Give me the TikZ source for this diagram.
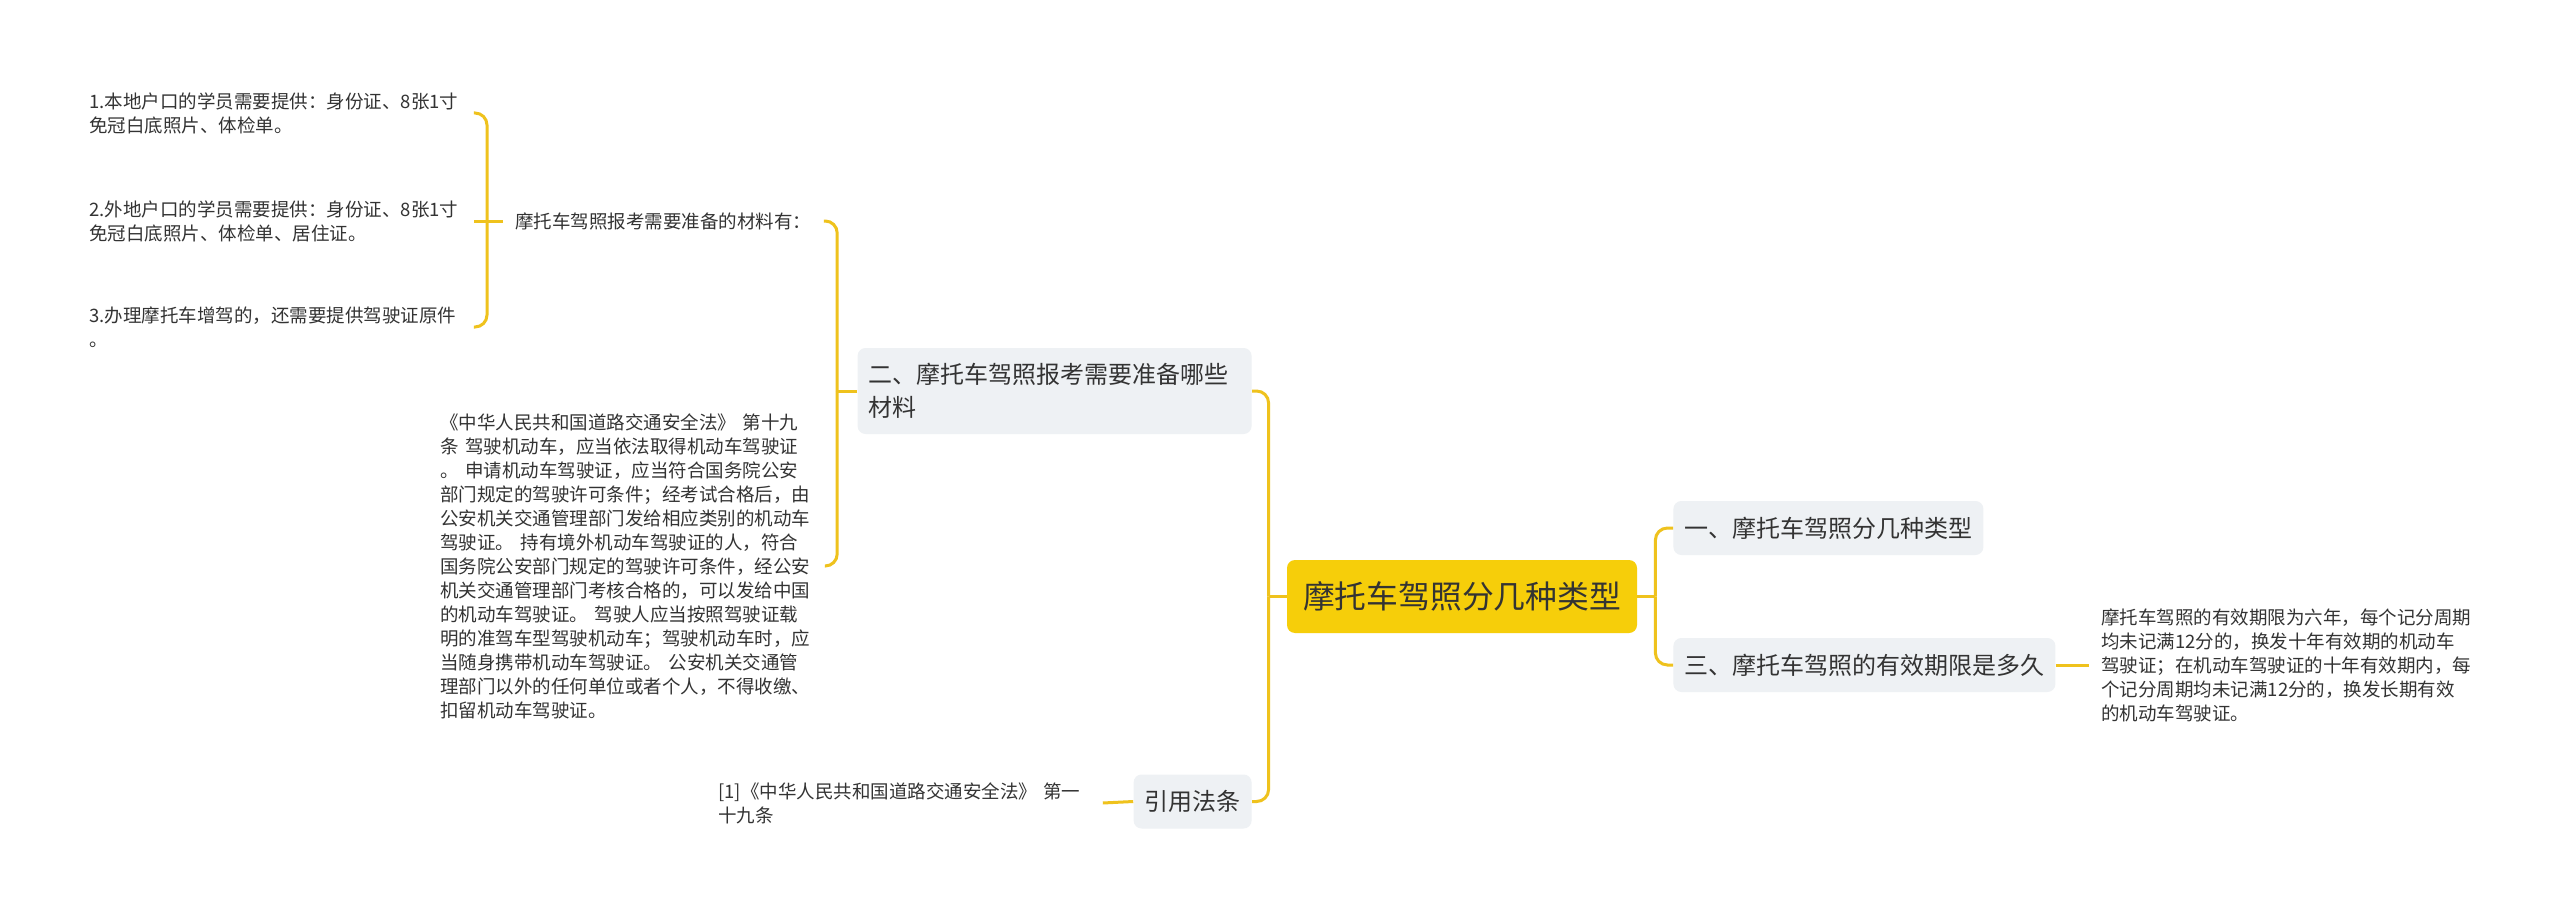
\documentclass[tikz,border=0pt]{standalone}
\usepackage{fontspec}
\setmainfont{Noto Sans CJK SC}
\usetikzlibrary{positioning}
\definecolor{linkyellow}{HTML}{EFC21D}
\definecolor{rootyellow}{HTML}{F6CE0A}
\definecolor{topicgray}{HTML}{EEF1F4}
\definecolor{inkgray}{HTML}{333333}
\tikzset{
  link/.style={draw=linkyellow,line width=1.5pt,rounded corners=6pt},
  rootbox/.style={rectangle,rounded corners=4pt,fill=rootyellow,text=inkgray,
    minimum width=175pt,minimum height=36.5pt,
    font=\fontsize{15.9pt}{19pt}\selectfont},
  topicbox/.style={rectangle,rounded corners=4pt,fill=topicgray,text=inkgray,
    inner xsep=5.5pt,minimum height=27pt,
    font=\fontsize{12pt}{16.5pt}\selectfont},
  leaftext/.style={anchor=west,inner xsep=6pt,inner ysep=1pt,text=inkgray,
    font=\fontsize{9.25pt}{12pt}\selectfont},
  leafpara/.style={leaftext,text width=186pt,align=left},
}

\begin{document}
\begin{tikzpicture}[x=0.5pt,y=-0.5pt]
  \fill[white] (0,0) rectangle (2560,915);
  \useasboundingbox (0,0) rectangle (2560,915);

  % centre and first level
  \node[rootbox] (root) at (1462,596.5) {摩托车驾照分几种类型};
  \node[topicbox,anchor=west] (kinds) at (1673,528) {一、摩托车驾照分几种类型};
  \node[topicbox,anchor=west] (valid) at (1673,665) {三、摩托车驾照的有效期限是多久};
  \node[topicbox,anchor=east,text width=186pt,align=left,minimum height=43pt]
    (prep) at (1252,391) {二、摩托车驾照报考需要准备哪些\\材料};
  \node[topicbox,anchor=east] (cite) at (1252,801.5) {引用法条};

  % leaves
  \node[leaftext] (need) at (503,221) {摩托车驾照报考需要准备的材料有：};
  \node[leafpara] (local) at (77,113)
    {1.本地户口的学员需要提供：身份证、8张1寸\\免冠白底照片、体检单。};
  \node[leafpara] (other) at (77,221)
    {2.外地户口的学员需要提供：身份证、8张1寸\\免冠白底照片、体检单、居住证。};
  \node[leafpara] (extra) at (77,327)
    {3.办理摩托车增驾的，还需要提供驾驶证原件\\。};
  \node[leafpara] (law) at (428,566)
    {《中华人民共和国道路交通安全法》 第十九\\%
     条 驾驶机动车，应当依法取得机动车驾驶证\\%
     。 申请机动车驾驶证，应当符合国务院公安\\%
     部门规定的驾驶许可条件；经考试合格后，由\\%
     公安机关交通管理部门发给相应类别的机动车\\%
     驾驶证。 持有境外机动车驾驶证的人，符合\\%
     国务院公安部门规定的驾驶许可条件，经公安\\%
     机关交通管理部门考核合格的，可以发给中国\\%
     的机动车驾驶证。 驾驶人应当按照驾驶证载\\%
     明的准驾车型驾驶机动车；驾驶机动车时，应\\%
     当随身携带机动车驾驶证。 公安机关交通管\\%
     理部门以外的任何单位或者个人，不得收缴、\\%
     扣留机动车驾驶证。};
  \node[leafpara] (ref) at (706,803)
    {[1]《中华人民共和国道路交通安全法》 第一\\十九条};
  \node[leafpara] (term) at (2089,665)
    {摩托车驾照的有效期限为六年，每个记分周期\\%
     均未记满12分的，换发十年有效期的机动车\\%
     驾驶证；在机动车驾驶证的十年有效期内，每\\%
     个记分周期均未记满12分的，换发长期有效\\%
     的机动车驾驶证。};

  % connectors
  \coordinate (rj) at ([xshift=9pt]root.east);
  \coordinate (lj) at ([xshift=-9pt]root.west);
  \coordinate (pj) at ([xshift=-10pt]prep.west);
  \coordinate (nj) at ([xshift=-8pt]need.west);
  \draw[link] (root.east) -- (rj);
  \draw[link] (rj) |- (kinds.west);
  \draw[link] (rj) |- (valid.west);
  \draw[link] (root.west) -- (lj);
  \draw[link] (lj) |- (prep.east);
  \draw[link] (lj) |- (cite.east);
  \draw[link] (valid.east) -- (term.west);
  \draw[link] (cite.west) -- (ref.east);
  \draw[link] (prep.west) -- (pj);
  \draw[link] (pj) |- (need.east);
  \draw[link] (pj) |- (law.east);
  \draw[link] (need.west) -- (nj);
  \draw[link] (nj) |- (local.east);
  \draw[link] (nj) -- (other.east);
  \draw[link] (nj) |- (extra.east);
\end{tikzpicture}
\end{document}
